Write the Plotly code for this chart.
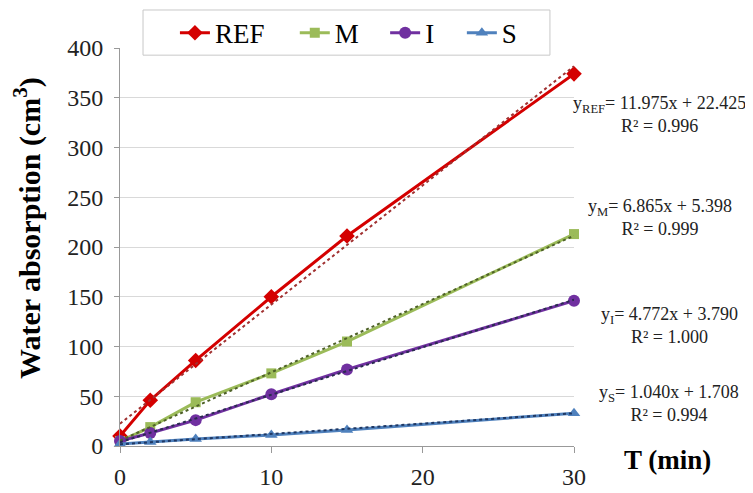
import plotly.graph_objects as go

t = [0, 2, 5, 10, 15, 30]
ref = [10, 46, 86, 150, 211, 374]
m = [5, 19, 44, 73, 105, 213]
i_ = [5, 13, 26, 52, 77, 146]
s = [2, 4, 7, 11, 16, 33]

names = ["REF", "M", "I", "S"]
series = [ref, m, i_, s]
colors = ["#D40000", "#9BBB59", "#7030A0", "#4F81BD"]
trend_colors = ["#A03030", "#4F6228", "#2A2A50", "#1F3864"]
symbols = ["diamond", "square", "circle", "triangle-up"]
msizes = [12, 10, 12, 11]
slopes = [11.975, 6.865, 4.772, 1.040]
inters = [22.425, 5.398, 3.790, 1.708]
r2 = ["0.996", "0.999", "1.000", "0.994"]
eq_px = [1.189, 1.189, 1.211, 1.209]
eq_py = [0.834, 0.573, 0.302, 0.108]
leg_ids = ["legend", "legend2", "legend3", "legend4"]
leg_x = [0.121, 0.385, 0.584, 0.753]

fig = go.Figure()
for k in range(4):
    fig.add_trace(go.Scatter(x=t, y=series[k], mode="lines+markers", name=names[k],
                             legend=leg_ids[k],
                             line=dict(color=colors[k], width=3),
                             marker=dict(symbol=symbols[k], size=msizes[k], color=colors[k]),
                             cliponaxis=False))
for k in range(4):
    xs = [0, 30]
    ys = [inters[k] + slopes[k] * x for x in xs]
    fig.add_trace(go.Scatter(x=xs, y=ys, mode="lines", showlegend=False,
                             line=dict(color=trend_colors[k], width=2, dash="dot"),
                             cliponaxis=False))

for k in range(4):
    fig.add_annotation(x=eq_px[k], y=eq_py[k], xref="paper", yref="paper",
                       text=f"y<sub>{names[k]}</sub>= {slopes[k]:.3f}x + {inters[k]:.3f}<br>R² = {r2[k]}",
                       showarrow=False, align="center", xanchor="center", yanchor="middle",
                       font=dict(family="Liberation Serif", size=18, color="#222"))

fig.add_annotation(x=1.207, xref="paper", xanchor="center", y=-0.035, yref="paper",
                   yanchor="middle", text="<b>T (min)</b>", showarrow=False,
                   font=dict(family="Liberation Serif", size=27, color="black"))

fig.add_annotation(x=-0.2026, xref="paper", xanchor="center", y=0.548, yref="paper",
                   yanchor="middle", textangle=-90,
                   text="<b>Water absorption (cm<sup>3</sup>)</b>", showarrow=False,
                   font=dict(family="Liberation Serif", size=30, color="black"))

# legend frame
fig.add_shape(type="rect", xref="paper", yref="paper", x0=0.0507, x1=0.947,
              y0=0.982, y1=1.0955, line=dict(color="#C8C8C8", width=1),
              fillcolor="white", layer="above")

leg_common = dict(orientation="h", xref="paper", xanchor="left",
                  yref="container", y=0.948, yanchor="middle",
                  borderwidth=0, font=dict(size=27, color="black"),
                  itemwidth=30, bgcolor="rgba(0,0,0,0)")
legends = {}
for k in range(4):
    legends[leg_ids[k]] = dict(leg_common, x=leg_x[k])

fig.update_layout(
    width=745, height=485,
    margin=dict(l=112, r=179, t=40, b=47, autoexpand=False),
    plot_bgcolor="white", paper_bgcolor="white",
    font=dict(family="Liberation Serif", size=24, color="#222"),
    showlegend=True,
    **legends,
    xaxis=dict(range=[0, 30], tickvals=[0, 10, 20, 30], showgrid=False,
               showline=True, linecolor="#999", linewidth=1, ticks="outside",
               tickcolor="#999", ticklen=6, zeroline=False, ticklabelstandoff=3),
    yaxis=dict(range=[0, 400], dtick=50, showgrid=True, gridcolor="#D9D9D9",
               showline=True, linecolor="#999", ticks="outside", tickcolor="#999",
               ticklen=5, zeroline=False, ticklabelstandoff=6),
)
fig.write_html("out.html")
